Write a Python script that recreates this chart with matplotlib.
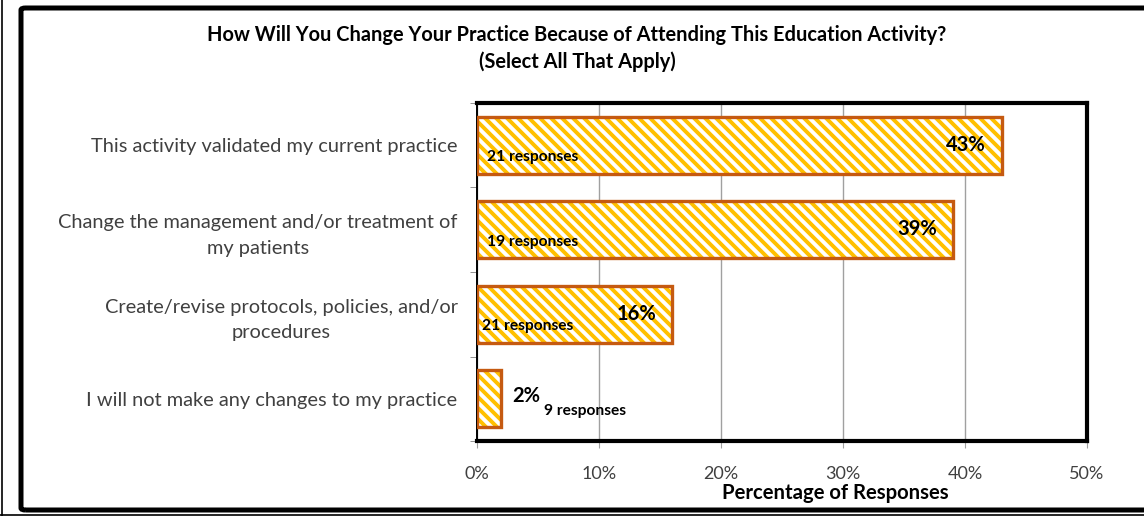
import matplotlib.pyplot as plt
import numpy as np
from matplotlib.collections import LineCollection
from matplotlib.patches import FancyBboxPatch
from matplotlib.lines import Line2D

plt.rcParams['font.family'] = ['Lato', 'DejaVu Sans']

categories = [
    'This activity validated my current practice',
    'Change the management and/or treatment of\nmy patients',
    'Create/revise protocols, policies, and/or\nprocedures',
    'I will not make any changes to my practice',
]
percents = [43, 39, 16, 2]
responses = ['21 responses', '19 responses', '21 responses', '9 responses']
x_ticks = [0, 10, 20, 30, 40, 50]

W, H = 1144, 516
fig = plt.figure(figsize=(W / 100, H / 100), dpi=100)

# outer frame
fig.patches.append(FancyBboxPatch((21 / W, 6 / H), 1.2, 502 / H,
                                  boxstyle='round,pad=0,rounding_size=0.004',
                                  transform=fig.transFigure, fill=False,
                                  edgecolor='black', linewidth=3.6))
fig.lines.append(Line2D([2 / W, 2 / W], [0, 1], transform=fig.transFigure,
                        color='black', linewidth=1.2))
fig.lines.append(Line2D([0, 1], [1.5 / H, 1.5 / H], transform=fig.transFigure,
                        color='black', linewidth=1.2))

ax = fig.add_axes([477 / W, (H - 441) / H, 610 / W, 338 / H])
y = np.arange(len(categories))
bar_h = 0.67

ax.set_xlim(0, 50)
ax.set_ylim(len(categories) - 0.5, -0.5)

gold = '#FFC000'
edge = '#C55A11'

bars = ax.barh(y, percents, height=bar_h, color='white', edgecolor='none', zorder=2)

# diagonal stripes, drawn in axes space and clipped to each bar
aspect = 610 / 338
period = 11 / 610
offs = np.arange(-2.5, 1.2, period)
segs = [[(o, 1.0), (o + 1.0 / aspect, 0.0)] for o in offs]
for b in bars:
    lc = LineCollection(segs, colors=gold, linewidths=2.8,
                        transform=ax.transAxes, zorder=3)
    ax.add_collection(lc)
    lc.set_clip_path(b)

ax.barh(y, percents, height=bar_h, fill=False, edgecolor=edge, linewidth=2.4, zorder=4)

# value and response labels
for i, (p, r) in enumerate(zip(percents, responses)):
    if p > 5:
        ax.annotate(f'{p}%', (p, i), xytext=(-11.5, 0.5), textcoords='offset points',
                    ha='right', va='center', fontsize=14.5, fontweight='bold', zorder=5)
        dx = 7 if i < 2 else 3.4
        ax.annotate(r, (0, i), xytext=(dx, -8.5), textcoords='offset points',
                    ha='left', va='center', fontsize=11.2, fontweight='bold', zorder=5)
    else:
        ax.annotate(f'{p}%', (p, i), xytext=(8, 2), textcoords='offset points',
                    ha='left', va='center', fontsize=14.5, fontweight='bold', zorder=5)
        ax.annotate(r, (p, i), xytext=(31, -9), textcoords='offset points',
                    ha='left', va='center', fontsize=11.2, fontweight='bold', zorder=5)

ax.set_xticks(x_ticks)
ax.set_xticklabels([f'{t}%' for t in x_ticks], fontsize=13, color='#404040')
ax.tick_params(axis='x', length=5, color='#A0A0A0', pad=13)
ax.set_yticks(np.arange(-0.5, len(categories), 1.0), minor=True)
ax.set_yticks(y)
ax.set_yticklabels(categories, fontsize=14.4, color='#404040')
for lbl in ax.get_yticklabels():
    lbl.set_multialignment('center')
    lbl.set_linespacing(1.6)
ax.tick_params(axis='y', which='major', length=0, pad=14)
ax.tick_params(axis='y', which='minor', length=5, color='#808080')
ax.grid(axis='x', color='#A0A0A0', linewidth=1.0, zorder=0)
ax.set_axisbelow(True)

for side in ['top', 'right', 'bottom']:
    ax.spines[side].set_linewidth(3.0)
ax.spines['left'].set_linewidth(1.4)

fig.text(577 / W, 1 - 35 / H, 'How Will You Change Your Practice Because of Attending This Education Activity?',
         ha='center', va='center', fontsize=14.4, fontweight='bold')
fig.text(577 / W, 1 - 62 / H, '(Select All That Apply)',
         ha='center', va='center', fontsize=14.4, fontweight='bold')
fig.text(835 / W, 1 - 493 / H, 'Percentage of Responses',
         ha='center', va='center', fontsize=14.6, fontweight='bold')

fig.savefig('out.png', dpi=100)
